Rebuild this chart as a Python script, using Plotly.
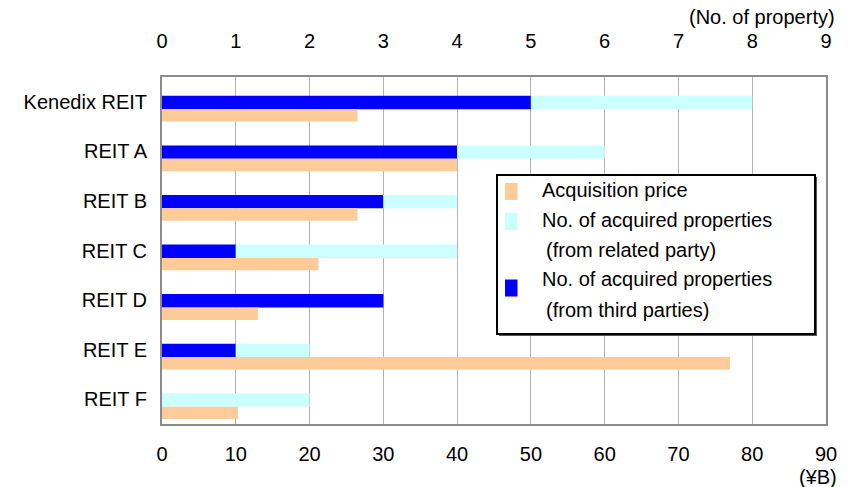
import plotly.graph_objects as go

# ---- data ----
reits = ["Kenedix REIT", "REIT A", "REIT B", "REIT C", "REIT D", "REIT E", "REIT F"]
third_parties = [5, 4, 3, 1, 3, 1, 0]      # No. of acquired properties (from third parties)
related_party = [3, 2, 1, 3, 0, 1, 2]      # No. of acquired properties (from related party)
acq_price = [26.5, 40.0, 26.5, 21.2, 13.0, 77.0, 10.3]   # Acquisition price (¥B)
count_ticks = list(range(0, 10))
price_ticks = list(range(0, 100, 10))

FONT = "Arial, Liberation Sans, sans-serif"
FS = 20
C_PRICE = "#FFCC99"
C_REL = "#CCFFFF"
C_THIRD = "#0000FF"

W, H = 856, 487
ML, MR, MT, MB = 162, 30, 77, 63
PW, PH = W - ML - MR, H - MT - MB


def px(x):
    return (x - ML) / PW


def py(y):
    return (H - MB - y) / PH


fig = go.Figure()

fig.add_trace(go.Bar(
    y=reits, x=third_parties, orientation="h", xaxis="x", yaxis="y",
    marker=dict(color=C_THIRD, line=dict(width=0)),
    offset=-0.12, width=0.27, name="No. of acquired properties (from third parties)",
    showlegend=False))
fig.add_trace(go.Bar(
    y=reits, x=related_party, base=third_parties, orientation="h", xaxis="x", yaxis="y",
    marker=dict(color=C_REL, line=dict(width=0)),
    offset=-0.12, width=0.27, name="No. of acquired properties (from related party)",
    showlegend=False))
fig.add_trace(go.Bar(
    y=reits, x=acq_price, orientation="h", xaxis="x2", yaxis="y",
    marker=dict(color=C_PRICE, line=dict(width=0)),
    offset=0.15, width=0.25, name="Acquisition price",
    showlegend=False))

shapes = []
annotations = []

# legend box (shadow + box)
shapes.append(dict(type="rect", xref="paper", yref="paper",
                   x0=px(499), x1=px(817), y0=py(336), y1=py(177),
                   fillcolor="#555555", line=dict(width=0), layer="above"))
shapes.append(dict(type="rect", xref="paper", yref="paper",
                   x0=px(497), x1=px(815), y0=py(334), y1=py(175),
                   fillcolor="white", line=dict(color="black", width=2), layer="above"))

legend_items = [
    (C_PRICE, 191.5, [("Acquisition price", 190, 540)]),
    (C_REL, 221.5, [("No. of acquired properties", 220, 540), ("(from related party)", 250, 544)]),
    (C_THIRD, 288, [("No. of acquired properties", 279, 540), ("(from third parties)", 310, 544)]),
]
for color, sy, lines in legend_items:
    shapes.append(dict(type="rect", xref="paper", yref="paper",
                       x0=px(505), x1=px(517.5), y0=py(sy + 8.5), y1=py(sy - 8.5),
                       fillcolor=color, line=dict(width=0), layer="above"))
    for text, ty, tx in lines:
        annotations.append(dict(text=text, xref="paper", yref="paper", x=px(tx), y=py(ty),
                                xanchor="left", yanchor="middle", showarrow=False,
                                font=dict(family=FONT, size=FS, color="black")))

annotations.append(dict(text="(No. of property)", xref="paper", yref="paper",
                        x=px(837), y=py(17), xanchor="right", yanchor="middle",
                        showarrow=False, font=dict(family=FONT, size=FS, color="black")))
annotations.append(dict(text="(¥B)", xref="paper", yref="paper",
                        x=px(839), y=py(477), xanchor="right", yanchor="middle",
                        showarrow=False, font=dict(family=FONT, size=FS, color="black")))

fig.update_layout(
    width=W, height=H,
    margin=dict(l=ML, r=MR, t=MT, b=MB, pad=0),
    paper_bgcolor="white", plot_bgcolor="white",
    barmode="overlay",
    showlegend=False,
    font=dict(family=FONT, size=FS, color="black"),
    xaxis=dict(side="top", range=[0, 9], tickvals=count_ticks, ticktext=[str(v) for v in count_ticks],
               showgrid=True, gridcolor="#B4B4B4", gridwidth=1, zeroline=False,
               showline=True, linecolor="#8C8C8C", linewidth=2, ticks="",
               ticklabelstandoff=19, tickfont=dict(size=FS), fixedrange=True),
    xaxis2=dict(overlaying="x", side="bottom", anchor="y", range=[0, 90], tickvals=price_ticks,
                ticktext=[str(v) for v in price_ticks],
                showgrid=False, zeroline=False, showline=True, linecolor="#8C8C8C", linewidth=2,
                ticks="", ticklabelstandoff=11, tickfont=dict(size=FS), fixedrange=True),
    yaxis=dict(autorange="reversed", showgrid=False, zeroline=False, showline=True, mirror=True,
               linecolor="#8C8C8C", linewidth=2, ticks="", ticklabelstandoff=9,
               tickfont=dict(size=FS), fixedrange=True),
    shapes=shapes,
    annotations=annotations,
)

fig.write_html("out.html", config={"displayModeBar": False},
               post_script="document.body.style.margin='0';")
